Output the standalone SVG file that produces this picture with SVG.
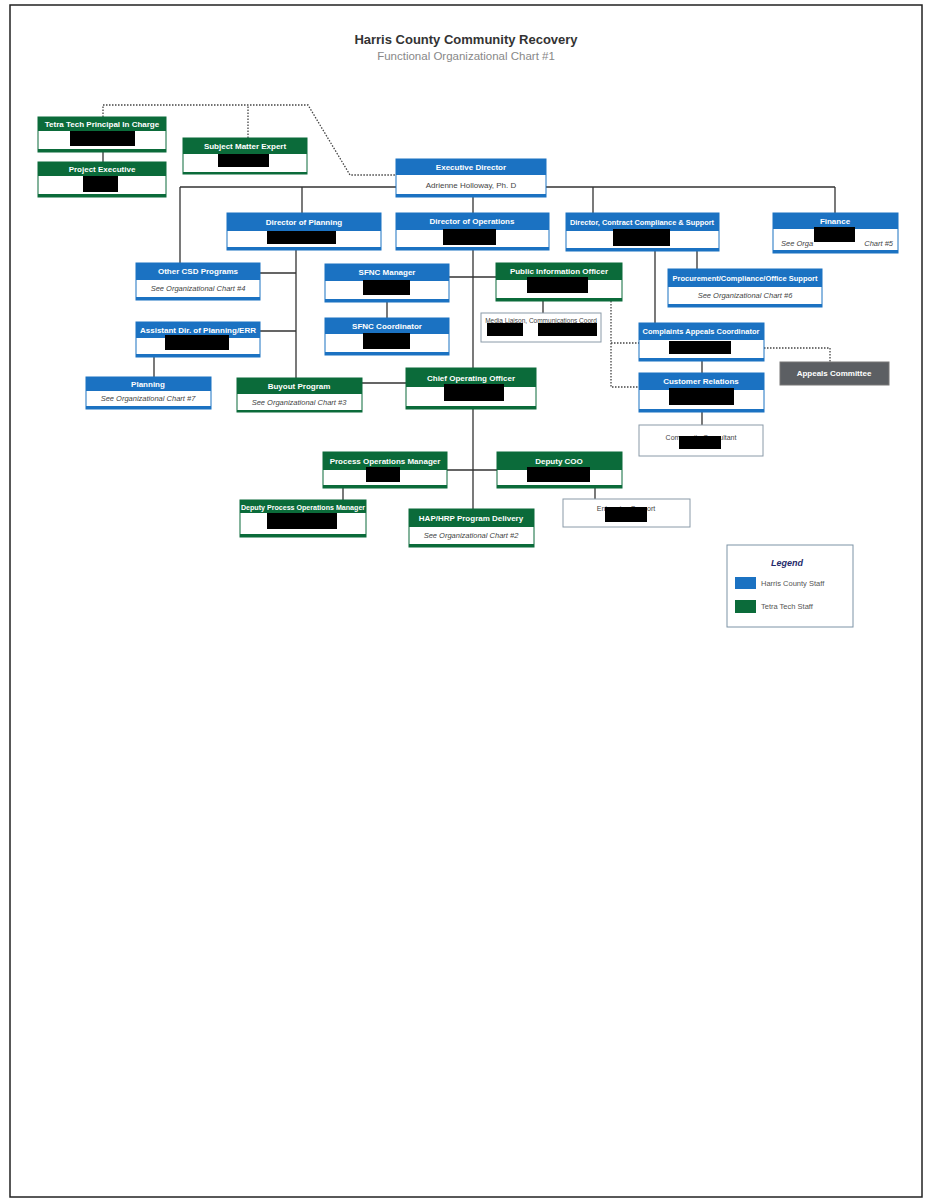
<svg xmlns="http://www.w3.org/2000/svg" width="925" height="1200" viewBox="0 0 925 1200">
<style>
  .bg{fill:#ffffff}
  .page{fill:none;stroke:#222;stroke-width:1.5}
  .boxB{fill:#fff;stroke:#1b72c2;stroke-width:1}
  .boxG{fill:#fff;stroke:#0b6b3a;stroke-width:1}
  .boxW{fill:#fff;stroke:#8a9aa8;stroke-width:1}
  .hB{fill:#1b72c2}
  .hG{fill:#0b6b3a}
  .ht{font-family:"Liberation Sans",Arial,sans-serif;font-weight:bold;font-size:8px;fill:#fff;text-anchor:middle}
  .it{font-family:"Liberation Sans",Arial,sans-serif;font-style:italic;font-size:7.5px;fill:#444;text-anchor:middle}
  .bt{font-family:"Liberation Sans",Arial,sans-serif;font-size:8px;fill:#444;text-anchor:middle}
  .red{fill:#000}
  .ln{fill:none;stroke:#333;stroke-width:1.3}
  .dot{fill:none;stroke:#444;stroke-width:1.3;stroke-dasharray:1.5 1.5}
  .title{font-family:"Liberation Sans",Arial,sans-serif;font-weight:bold;font-size:13px;fill:#333;text-anchor:middle}
  .sub{font-family:"Liberation Sans",Arial,sans-serif;font-size:11.5px;fill:#888;text-anchor:middle}
  .lg{font-family:"Liberation Sans",Arial,sans-serif;font-size:7.5px;fill:#555}
</style>
<rect class="bg" x="0" y="0" width="925" height="1200"/>
<rect class="page" x="10" y="5" width="912" height="1192"/>
<text class="title" x="466" y="44">Harris County Community Recovery</text>
<text class="sub" x="466" y="60">Functional Organizational Chart #1</text>

<g id="connectors">
  <path class="ln" d="M180,187 H835 M180,187 V263 M302,187 V213 M593,187 V213 M835,187 V213"/>
  <path class="ln" d="M103,152 V162"/>
  <path class="ln" d="M473,197 V213 M473,250 V509 M449,277 H496 M362,383 H406 M447,470 H497"/>
  <path class="ln" d="M296,250 V378 M260,273 H296 M260,331 H296 M154,357 V377"/>
  <path class="ln" d="M387,302 V318 M543,301 V313"/>
  <path class="ln" d="M655,251 V323 M697,251 V269 M702,361 V373 M702,412 V425"/>
  <path class="ln" d="M343,488 V500 M595,488 V499"/>
  <path class="dot" d="M103,117 V105 H308 L350,175 H396 M248,138 V105"/>
  <path class="dot" d="M611,301 V387 H639 M611,343 H639"/>
  <path class="dot" d="M764,348 H830 V362"/>
</g>

<g id="n-principal">
  <rect class="boxG" x="38" y="117" width="128" height="35"/>
  <rect class="hG" x="38" y="117" width="128" height="14"/>
  <rect class="hG" x="38" y="149" width="128" height="3"/>
  <text class="ht" x="102" y="127">Tetra Tech Principal In Charge</text>
  <rect class="red" x="70" y="131" width="65" height="15"/>
</g>
<g id="n-projexec">
  <rect class="boxG" x="38" y="162" width="128" height="35"/>
  <rect class="hG" x="38" y="162" width="128" height="14"/>
  <rect class="hG" x="38" y="194" width="128" height="3"/>
  <text class="ht" x="102" y="172">Project Executive</text>
  <rect class="red" x="83" y="176" width="35" height="16"/>
</g>
<g id="n-sme">
  <rect class="boxG" x="183" y="138" width="124" height="36"/>
  <rect class="hG" x="183" y="138" width="124" height="16"/>
  <rect class="hG" x="183" y="172" width="124" height="2"/>
  <text class="ht" x="245" y="149">Subject Matter Expert</text>
  <rect class="red" x="218" y="154" width="51" height="13"/>
</g>
<g id="n-exec">
  <rect class="boxB" x="396" y="159" width="150" height="38"/>
  <rect class="hB" x="396" y="159" width="150" height="16"/>
  <rect class="hB" x="396" y="194" width="150" height="3"/>
  <text class="ht" x="471" y="170">Executive Director</text>
  <text class="bt" x="471" y="188">Adrienne Holloway, Ph. D</text>
</g>
<g id="n-dirplan">
  <rect class="boxB" x="227" y="213" width="154" height="37"/>
  <rect class="hB" x="227" y="213" width="154" height="18"/>
  <rect class="hB" x="227" y="247" width="154" height="3"/>
  <text class="ht" x="304" y="225">Director of Planning</text>
  <rect class="red" x="267" y="231" width="69" height="13"/>
</g>
<g id="n-dirops">
  <rect class="boxB" x="396" y="213" width="153" height="37"/>
  <rect class="hB" x="396" y="213" width="153" height="17"/>
  <rect class="hB" x="396" y="247" width="153" height="3"/>
  <text class="ht" x="472" y="224">Director of Operations</text>
  <rect class="red" x="443" y="229" width="53" height="16"/>
</g>
<g id="n-dircontract">
  <rect class="boxB" x="566" y="213" width="153" height="38"/>
  <rect class="hB" x="566" y="213" width="153" height="18"/>
  <rect class="hB" x="566" y="248" width="153" height="3"/>
  <text class="ht" x="642" y="225" style="font-size:7.4px">Director, Contract Compliance &amp; Support</text>
  <rect class="red" x="613" y="229" width="57" height="17"/>
</g>
<g id="n-finance">
  <rect class="boxB" x="773" y="213" width="125" height="40"/>
  <rect class="hB" x="773" y="213" width="125" height="16"/>
  <rect class="hB" x="773" y="250" width="125" height="3"/>
  <text class="ht" x="835" y="224">Finance</text>
  <text class="it" x="781" y="246" style="text-anchor:start">See Orga</text>
  <text class="it" x="893" y="246" style="text-anchor:end">Chart #5</text>
  <rect class="red" x="814" y="227" width="41" height="15"/>
</g>
<g id="n-othercsd">
  <rect class="boxB" x="136" y="263" width="124" height="37"/>
  <rect class="hB" x="136" y="263" width="124" height="17"/>
  <rect class="hB" x="136" y="297" width="124" height="3"/>
  <text class="ht" x="198" y="274">Other CSD Programs</text>
  <text class="it" x="198" y="291">See Organizational Chart #4</text>
</g>
<g id="n-sfncmgr">
  <rect class="boxB" x="325" y="264" width="124" height="38"/>
  <rect class="hB" x="325" y="264" width="124" height="17"/>
  <rect class="hB" x="325" y="299" width="124" height="3"/>
  <text class="ht" x="387" y="275">SFNC Manager</text>
  <rect class="red" x="363" y="280" width="47" height="15"/>
</g>
<g id="n-pio">
  <rect class="boxG" x="496" y="263" width="126" height="38"/>
  <rect class="hG" x="496" y="263" width="126" height="17"/>
  <rect class="hG" x="496" y="298" width="126" height="3"/>
  <text class="ht" x="559" y="274">Public Information Officer</text>
  <rect class="red" x="527" y="277" width="61" height="16"/>
</g>
<g id="n-procure">
  <rect class="boxB" x="668" y="269" width="154" height="38"/>
  <rect class="hB" x="668" y="269" width="154" height="18"/>
  <rect class="hB" x="668" y="304" width="154" height="3"/>
  <text class="ht" x="745" y="281" style="font-size:7.5px">Procurement/Compliance/Office Support</text>
  <text class="it" x="745" y="298">See Organizational Chart #6</text>
</g>
<g id="n-comms">
  <rect class="boxW" x="481" y="313" width="120" height="29"/>
  <text class="bt" x="541" y="323" style="font-size:6.5px">Media Liaison, Communications Coord</text>
  <rect class="red" x="487" y="323" width="36" height="13"/>
  <rect class="red" x="538" y="323" width="59" height="13"/>
</g>
<g id="n-sfnccoord">
  <rect class="boxB" x="325" y="318" width="124" height="37"/>
  <rect class="hB" x="325" y="318" width="124" height="16"/>
  <rect class="hB" x="325" y="352" width="124" height="3"/>
  <text class="ht" x="387" y="329">SFNC Coordinator</text>
  <rect class="red" x="363" y="333" width="47" height="16"/>
</g>
<g id="n-asstdir">
  <rect class="boxB" x="136" y="322" width="124" height="35"/>
  <rect class="hB" x="136" y="322" width="124" height="16"/>
  <rect class="hB" x="136" y="354" width="124" height="3"/>
  <text class="ht" x="198" y="333">Assistant Dir. of Planning/ERR</text>
  <rect class="red" x="165" y="335" width="64" height="15"/>
</g>
<g id="n-complaints">
  <rect class="boxB" x="639" y="323" width="125" height="38"/>
  <rect class="hB" x="639" y="323" width="125" height="17"/>
  <rect class="hB" x="639" y="358" width="125" height="3"/>
  <text class="ht" x="701" y="334" style="font-size:7.5px">Complaints Appeals Coordinator</text>
  <rect class="red" x="669" y="341" width="62" height="13"/>
</g>
<g id="n-appeals">
  <rect x="780" y="362" width="109" height="23" fill="#5c5f63" stroke="#777" stroke-width="1"/>
  <text class="ht" x="834" y="376">Appeals Committee</text>
</g>
<g id="n-custrel">
  <rect class="boxB" x="639" y="373" width="125" height="39"/>
  <rect class="hB" x="639" y="373" width="125" height="17"/>
  <rect class="hB" x="639" y="409" width="125" height="3"/>
  <text class="ht" x="701" y="384">Customer Relations</text>
  <rect class="red" x="669" y="388" width="65" height="17"/>
</g>
<g id="n-planning">
  <rect class="boxB" x="86" y="377" width="125" height="32"/>
  <rect class="hB" x="86" y="377" width="125" height="14"/>
  <rect class="hB" x="86" y="406" width="125" height="3"/>
  <text class="ht" x="148" y="387">Planning</text>
  <text class="it" x="148" y="401">See Organizational Chart #7</text>
</g>
<g id="n-buyout">
  <rect class="boxG" x="237" y="378" width="125" height="34"/>
  <rect class="hG" x="237" y="378" width="125" height="16"/>
  <rect class="hG" x="237" y="410" width="125" height="2"/>
  <text class="ht" x="299" y="389">Buyout Program</text>
  <text class="it" x="299" y="405">See Organizational Chart #3</text>
</g>
<g id="n-coo">
  <rect class="boxG" x="406" y="368" width="130" height="41"/>
  <rect class="hG" x="406" y="368" width="130" height="19"/>
  <rect class="hG" x="406" y="406" width="130" height="3"/>
  <text class="ht" x="471" y="381">Chief Operating Officer</text>
  <rect class="red" x="444" y="384" width="60" height="17"/>
</g>
<g id="n-consultant">
  <rect class="boxW" x="639" y="425" width="124" height="31"/>
  <text class="bt" x="701" y="440" style="font-size:7px">Community Consultant</text>
  <rect class="red" x="679" y="436" width="42" height="13"/>
</g>
<g id="n-procops">
  <rect class="boxG" x="323" y="452" width="124" height="36"/>
  <rect class="hG" x="323" y="452" width="124" height="18"/>
  <rect class="hG" x="323" y="485" width="124" height="3"/>
  <text class="ht" x="385" y="464">Process Operations Manager</text>
  <rect class="red" x="366" y="467" width="34" height="15"/>
</g>
<g id="n-deputycoo">
  <rect class="boxG" x="497" y="452" width="125" height="36"/>
  <rect class="hG" x="497" y="452" width="125" height="18"/>
  <rect class="hG" x="497" y="485" width="125" height="3"/>
  <text class="ht" x="559" y="464">Deputy COO</text>
  <rect class="red" x="527" y="467" width="63" height="15"/>
</g>
<g id="n-depprocops">
  <rect class="boxG" x="240" y="500" width="126" height="37"/>
  <rect class="hG" x="240" y="500" width="126" height="13"/>
  <rect class="hG" x="240" y="534" width="126" height="3"/>
  <text class="ht" x="303" y="509.5" style="font-size:7.1px">Deputy Process Operations Manager</text>
  <rect class="red" x="267" y="513" width="70" height="16"/>
</g>
<g id="n-hap">
  <rect class="boxG" x="409" y="509" width="125" height="38"/>
  <rect class="hG" x="409" y="509" width="125" height="18"/>
  <rect class="hG" x="409" y="544" width="125" height="3"/>
  <text class="ht" x="471" y="521">HAP/HRP Program Delivery</text>
  <text class="it" x="471" y="538">See Organizational Chart #2</text>
</g>
<g id="n-enterprise">
  <rect class="boxW" x="563" y="499" width="127" height="28"/>
  <text class="bt" x="626" y="511" style="font-size:7px">Enterprise Support</text>
  <rect class="red" x="605" y="507" width="42" height="15"/>
</g>

<g id="legend">
  <rect x="727" y="545" width="126" height="82" fill="#fff" stroke="#7d93a6" stroke-width="1"/>
  <text x="787" y="566" font-family="Liberation Sans, Arial, sans-serif" font-size="9" font-weight="bold" font-style="italic" fill="#1f2a6b" text-anchor="middle">Legend</text>
  <rect class="hB" x="735" y="577" width="21" height="12"/>
  <text class="lg" x="761" y="586">Harris County Staff</text>
  <rect class="hG" x="735" y="600" width="21" height="13"/>
  <text class="lg" x="761" y="609">Tetra Tech Staff</text>
</g>
</svg>
